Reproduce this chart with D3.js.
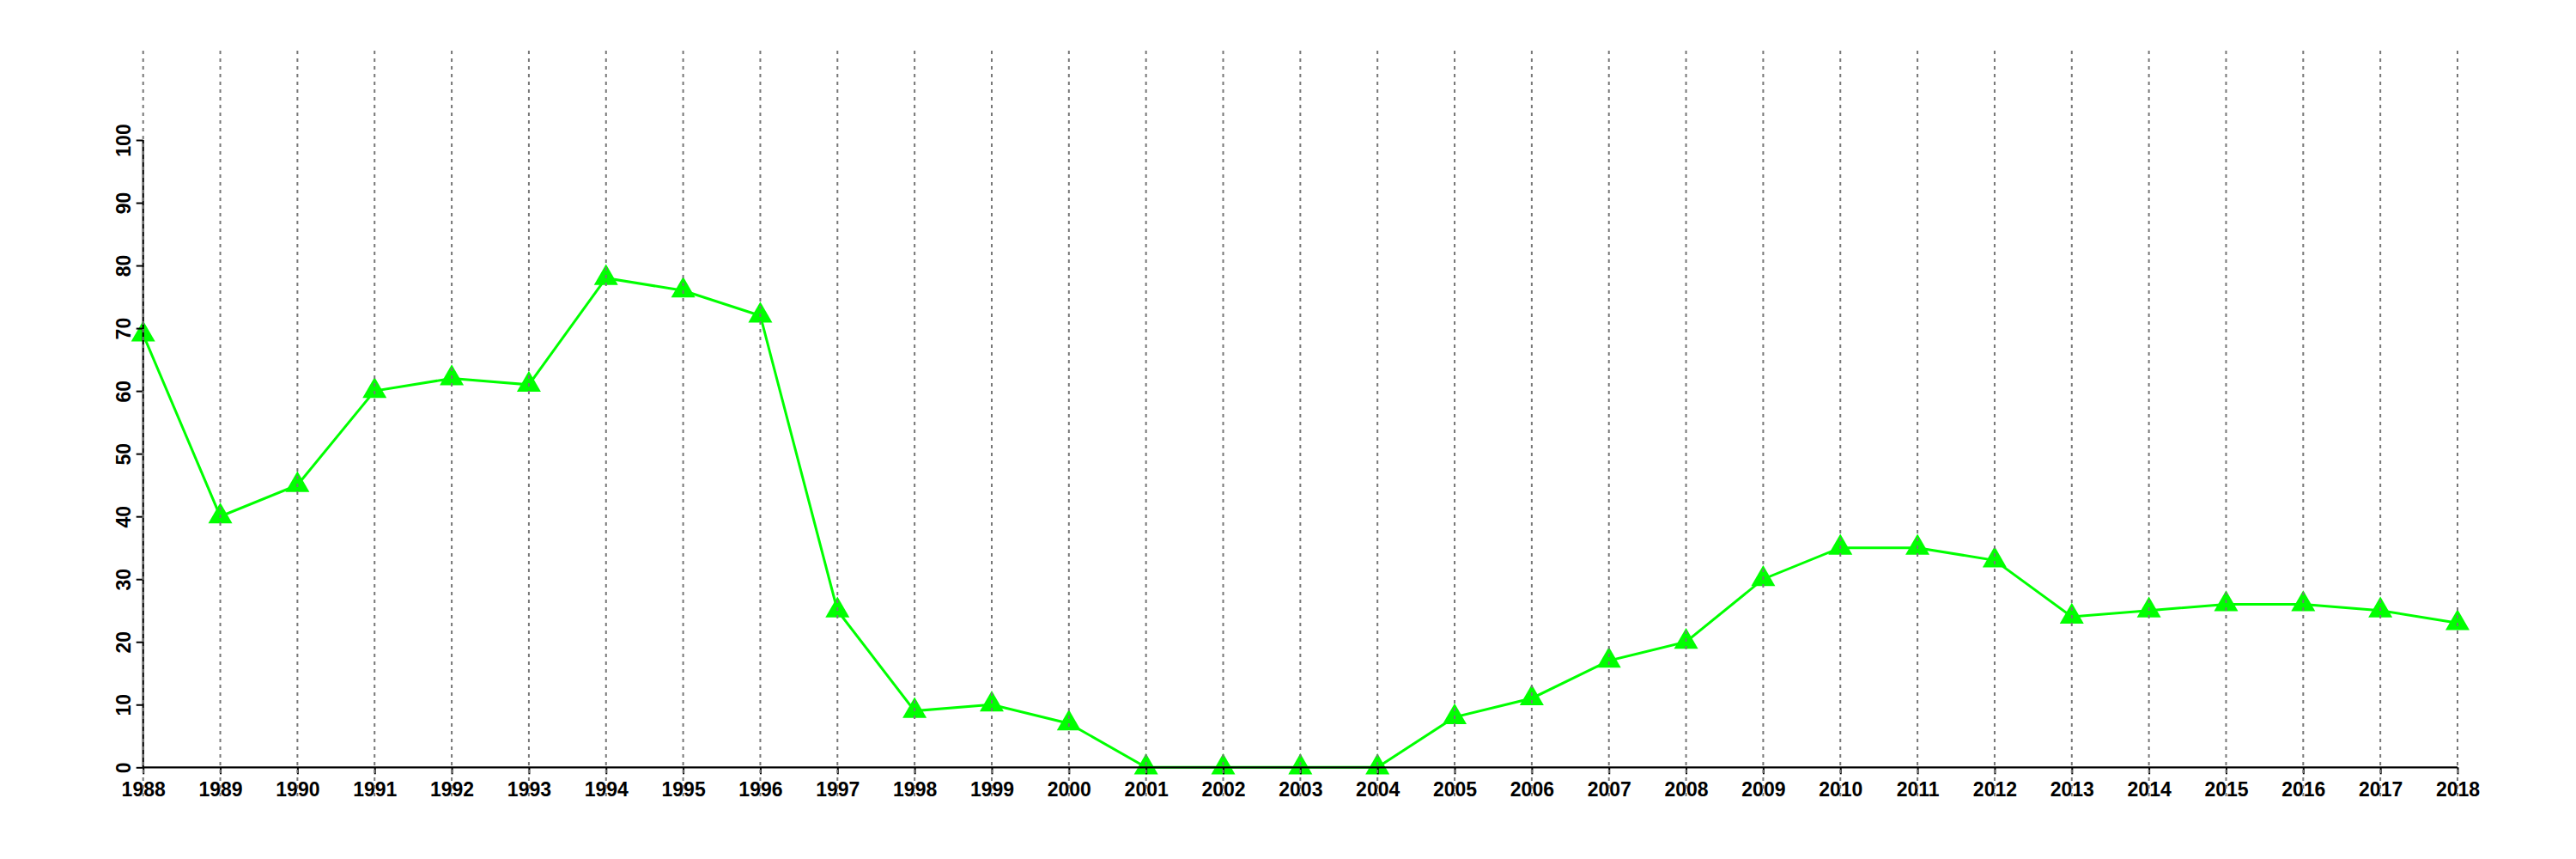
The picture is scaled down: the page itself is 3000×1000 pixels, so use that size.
<!DOCTYPE html>
<html>
<head>
<meta charset="utf-8">
<script src="https://cdn.jsdelivr.net/npm/d3@7"></script>
<style>
  html, body { margin: 0; padding: 0; background: #fff; }
  svg { display: block; }
  text { font-family: "Liberation Sans", Arial, Helvetica, sans-serif; font-weight: bold; }
</style>
</head>
<body>
<svg id="chart" width="3000" height="1000"></svg>
<script>
const years = [1988,1989,1990,1991,1992,1993,1994,1995,1996,1997,1998,1999,2000,2001,2002,2003,2004,2005,2006,2007,2008,2009,2010,2011,2012,2013,2014,2015,2016,2017,2018];
const values = [69,40,45,60,62,61,78,76,72,25,9,10,7,0,0,0,0,8,11,17,20,30,35,35,33,24,25,26,26,25,23];
const yTicks = [0,10,20,30,40,50,60,70,80,90,100];

const svg = d3.select("#chart");
const x = d3.scaleLinear().domain([1988, 2018]).range([166.7, 2862]);
const y = d3.scaleLinear().domain([0, 100]).range([893.3, 163]);
const data = years.map((yr, i) => ({ year: yr, value: values[i] }));

// line
svg.append("path")
  .datum(data)
  .attr("fill", "none")
  .attr("stroke", "#00ff00")
  .attr("stroke-width", 3)
  .attr("d", d3.line().x(d => x(d.year)).y(d => y(d.value)));

// points
svg.append("g").selectAll("path")
  .data(data)
  .join("path")
  .attr("transform", d => `translate(${x(d.year)},${y(d.value)})`)
  .attr("d", d3.symbol().type(d3.symbolTriangle).size(340))
  .attr("fill", "#00ff00");

// x axis
const xAxis = svg.append("g")
  .attr("transform", `translate(0,${y(0)})`)
  .call(d3.axisBottom(x).tickValues(years).tickFormat(d3.format("d")).tickSize(8).tickPadding(9));
xAxis.select(".domain").attr("stroke", "#000").attr("stroke-width", 2.2).attr("d", `M${x(1988)},0H${x(2018)}`);
xAxis.selectAll(".tick line").attr("stroke", "#000").attr("stroke-width", 2);
xAxis.selectAll(".tick text").attr("font-size", 23).attr("fill", "#000")
  .attr("font-family", "Liberation Sans, Arial, sans-serif").attr("font-weight", "bold");

// y axis
const yAxis = svg.append("g")
  .attr("transform", `translate(${x(1988)},0)`)
  .call(d3.axisLeft(y).tickValues(yTicks).tickFormat(d3.format("d")).tickSize(8));
yAxis.select(".domain").attr("stroke", "#000").attr("stroke-width", 2.2).attr("d", `M0,${y(0)}V${y(100)}`);
yAxis.selectAll(".tick line").attr("stroke", "#000").attr("stroke-width", 2);
yAxis.selectAll(".tick text")
  .attr("font-size", 23).attr("fill", "#000")
  .attr("font-family", "Liberation Sans, Arial, sans-serif").attr("font-weight", "bold")
  .attr("x", null).attr("dy", null)
  .attr("text-anchor", "middle")
  .attr("transform", "translate(-15,0) rotate(-90)");

// vertical dotted gridlines (drawn on top)
svg.append("g").selectAll("line")
  .data(years)
  .join("line")
  .attr("x1", d => x(d)).attr("x2", d => x(d))
  .attr("y1", 59).attr("y2", 927)
  .attr("stroke", "#777")
  .attr("stroke-width", 2)
  .attr("stroke-dasharray", "4,5");
</script>
</body>
</html>
